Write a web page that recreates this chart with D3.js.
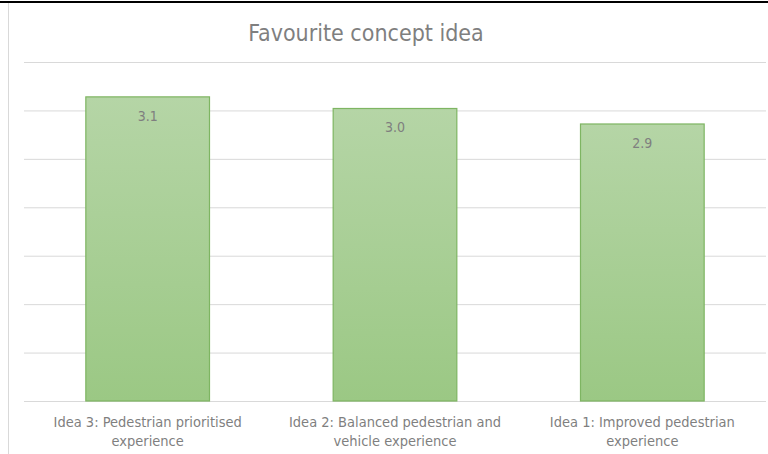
<!DOCTYPE html>
<html>
<head>
<meta charset="utf-8">
<script src="https://cdn.jsdelivr.net/npm/d3@7"></script>
<style>
  body { margin: 0; background: #fff; }
  text { font-family: 'Liberation Sans Narrow', 'DejaVu Sans Condensed', 'Open Sans', sans-serif; fill: #7f7f7f; }
</style>
</head>
<body>
<div id="chart"></div>
<script>
const categories = [
  ['Idea 3: Pedestrian prioritised', 'experience'],
  ['Idea 2: Balanced pedestrian and', 'vehicle experience'],
  ['Idea 1: Improved pedestrian', 'experience']
]
const values = [3.14, 3.02, 2.86]
const yTicks = [0, 0.5, 1, 1.5, 2, 2.5, 3, 3.5]
const title = 'Favourite concept idea'

const W = 768
const H = 454
const m = { t: 62, r: 2, b: 53, l: 24 }

const svg = d3.select('#chart').append('svg')
  .attr('width', W).attr('height', H)

// frame lines
svg.append('line').attr('x1', 0).attr('x2', W).attr('y1', 2).attr('y2', 2)
  .attr('stroke', '#000').attr('stroke-width', 2)
svg.append('line').attr('x1', 8.5).attr('x2', 8.5).attr('y1', 3).attr('y2', H)
  .attr('stroke', '#d9d9d9').attr('stroke-width', 1)

const defs = svg.append('defs')
const grad = defs.append('linearGradient').attr('id', 'barGrad')
  .attr('x1', 0).attr('y1', 0).attr('x2', 0).attr('y2', 1)
grad.append('stop').attr('offset', '0%').attr('stop-color', '#b5d5a6')
grad.append('stop').attr('offset', '100%').attr('stop-color', '#9bc884')

const x = d3.scaleBand()
  .domain(d3.range(categories.length))
  .range([m.l, W - m.r])
  .paddingInner(0.5)
  .paddingOuter(0.25)

const y = d3.scaleLinear()
  .domain([0, 3.5])
  .range([H - m.b, m.t])

// gridlines
svg.append('g')
  .attr('transform', 'translate(' + m.l + ',0)')
  .call(d3.axisLeft(y).tickValues(yTicks).tickSize(-(W - m.r - m.l)).tickFormat(''))
  .call(g => g.select('.domain').remove())
  .call(g => g.selectAll('line').attr('stroke', '#d9d9d9').attr('stroke-width', 1))

// bars
svg.selectAll('.bar').data(values).enter().append('rect')
  .attr('class', 'bar')
  .attr('x', (d, i) => x(i))
  .attr('y', d => y(d))
  .attr('width', x.bandwidth())
  .attr('height', d => y(0) - y(d))
  .attr('fill', 'url(#barGrad)')
  .attr('stroke', '#7eb562')
  .attr('stroke-width', 1.2)

// data labels
svg.selectAll('.lbl').data(values).enter().append('text')
  .attr('class', 'lbl')
  .attr('x', (d, i) => x(i) + x.bandwidth() / 2)
  .attr('y', d => y(d) + 24)
  .attr('text-anchor', 'middle')
  .style('font-size', '14px')
  .text(d => d.toFixed(1))

// category labels
const cat = svg.selectAll('.cat').data(categories).enter().append('text')
  .attr('class', 'cat')
  .attr('text-anchor', 'middle')
  .style('font-size', '14.5px')
cat.selectAll('tspan').data((d, i) => d.map(s => ({ s, i }))).enter().append('tspan')
  .attr('x', d => x(d.i) + x.bandwidth() / 2)
  .attr('y', (d, j) => 427 + j * 19)
  .text(d => d.s)

// title
svg.append('text')
  .attr('x', 366).attr('y', 41)
  .attr('text-anchor', 'middle')
  .style('font-size', '23px')
  .text(title)
</script>
</body>
</html>
